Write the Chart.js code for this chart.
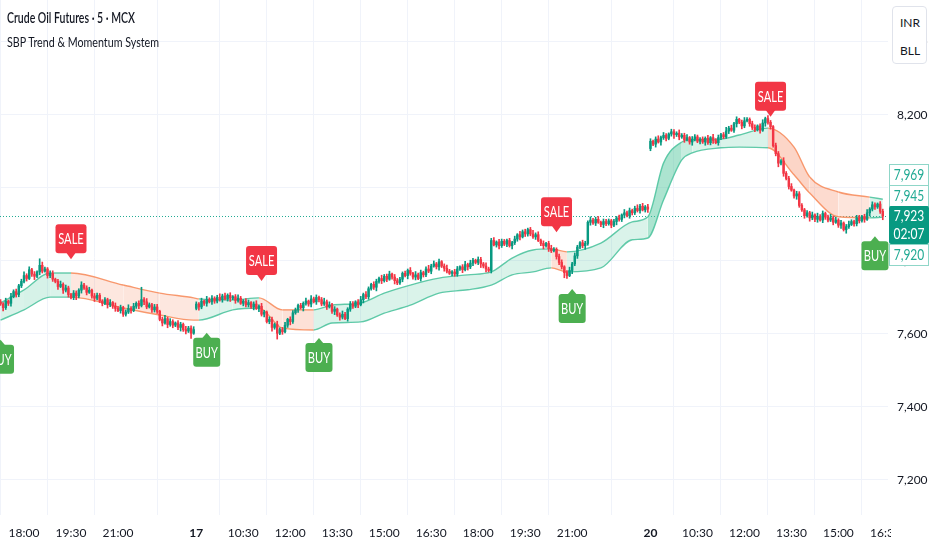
<!DOCTYPE html>
<html>
<head>
<meta charset="utf-8">
<script src="https://cdn.jsdelivr.net/npm/chart.js@4.4.1/dist/chart.umd.min.js"></script>
<style>
  html, body { margin: 0; padding: 0; background: #fff; }
  #wrap { position: relative; width: 932px; height: 550px; color: #131722; font-family: Lato, sans-serif; }
  .head { position: absolute; left: 7px; white-space: nowrap; transform-origin: 0 0; }
  #title { top: 8px; font-size: 15px; font-weight: 600; }
  #sub { top: 33px; font-size: 14px; }
  #ccy { position: absolute; left: 892px; top: 6px; width: 35px; height: 58px; background: #fff;
         border: 1px solid #e0e3eb; border-radius: 4px; font-size: 12px; box-sizing: border-box; }
  #ccy div { position: absolute; left: 7px; }
</style>
</head>
<body>
<div id="wrap">
  <canvas id="c" width="932" height="550"></canvas>
  <div id="title" class="head">Crude Oil Futures · 5 · MCX</div>
  <div id="sub" class="head">SBP Trend &amp; Momentum System</div>
  <div id="ccy"><div style="top:8px">INR</div><div style="top:36px">BLL</div></div>
</div>
<script>
// 5 min candles: 16th from 17:15, 17th full session, 20th up to 16:25
const closeDay16 = [
  7682,7672,7690,7684,7702,7716,7708,7732,7744,7760, 7752,7776,7764,7758,7770,7788,7772,7778,7760,7766,
  7750,7744,7730,7736,7720,7726,7708,7700,7712,7704, 7720,7734,7726,7714,7720,7704,7698,7706,7690,7684,
  7694,7680,7686,7676,7670,7664,7672,7654,7660,7670, 7664,7676,7684,7678,7694,7688,7674,7680,7666,7674,
  7662,7640,7630,7642,7626,7634,7624,7630,7618,7626, 7612,7608,7616,7602,7612
];
const closeDay17 = [
  7682,7674,7690,7684,7694,7688,7698,7690,7700,7694, 7704,7696,7706,7698,7702,7692,7698,7684,7690,7680,
  7686,7674,7682,7670,7676,7654,7660,7634,7640,7618, 7626,7602,7612,7606,7624,7640,7634,7658,7666,7678,
  7672,7684,7690,7682,7696,7688,7700,7694,7682,7688, 7674,7680,7662,7668,7652,7646,7654,7642,7668,7682,
  7676,7688,7680,7694,7708,7702,7724,7736,7728,7744, 7752,7746,7758,7750,7764,7756,7746,7740,7750,7766,
  7760,7774,7766,7756,7762,7752,7768,7762,7778,7772, 7786,7792,7784,7798,7786,7780,7772,7766,7770,7764,
  7778,7784,7776,7790,7784,7794,7802,7796,7804,7792, 7786,7778,7774,7856,7844,7852,7842,7854,7846,7856,
  7842,7850,7860,7872,7866,7880,7874,7886,7874,7866, 7872,7856,7848,7842,7848,7834,7828,7832,7812,7796,
  7784,7768,7760,7774,7792,7814,7838,7850,7842,7848, 7906,7912,7904,7914,7906,7900,7908,7902,7910,7898,
  7908,7918,7914,7926,7932,7924,7938,7932,7944,7938, 7950,7940,7948,7942
];
const closeDay20 = [
  8128,8120,8134,8126,8138,8144,8136,8148,8154,8146, 8150,8140,8144,8132,8138,8126,8134,8140,8128,8134,
  8126,8136,8124,8138,8130,8124,8138,8146,8140,8156, 8164,8158,8176,8188,8180,8170,8184,8188,8176,8166,
  8160,8170,8158,8178,8190,8180,8168,8116,8094,8068, 8074,8040,8026,8004,7994,7978,7984,7952,7940,7924,
  7932,7918,7926,7914,7922,7912,7930,7920,7912,7918, 7906,7912,7898,7904,7886,7894,7900,7908,7902,7918,
  7910,7922,7914,7932,7942,7954,7948,7956,7936,7923
];
const firstOpen = 7688;
const gapIdx = [75, 249];
const gapOpen = [7670, 8108];

const wickUp = [
  6,4,8,3,9,5,7,4,6,10, 5,8,4,7,3,18,9,5,4,7, 7,3,6,9,4,8,5,3,7,6, 4,9,5,6,8,3,7,6,5,4,
  6,4,8,3,9,5,7,4,6,10, 5,8,4,7,34,6,9,5,4,7, 7,3,6,9,4,8,5,3,7,6, 4,9,5,6,8,
  6,4,8,3,9,5,7,4,6,10, 5,8,4,7,3,6,9,5,4,7, 7,3,6,9,4,8,5,3,7,6, 4,9,5,6,8,3,7,6,5,4,
  6,4,8,3,9,5,7,4,6,10, 5,8,4,7,3,6,9,5,4,7, 7,3,6,9,4,8,5,3,7,6, 4,9,5,6,8,3,7,6,5,4,
  6,4,8,3,9,5,7,4,6,10, 5,8,4,7,3,6,9,5,4,7, 7,3,6,9,4,8,5,3,7,6, 4,9,5,6,8,3,7,6,5,4,
  6,4,8,3,9,5,7,4,6,10, 5,8,4,7,3,6,9,5,4,7, 7,3,6,9,4,8,5,3,7,6, 4,9,5,6,8,3,7,6,5,4,
  6,4,8,3,9,5,7,4,6,10, 5,8,4,7,
  7,3,6,9,4,8,5,3,7,6, 4,9,5,6,8,3,7,6,5,4, 6,4,8,3,9,5,7,4,6,10, 5,8,4,7,3,6,9,5,4,7,
  7,3,6,9,4,8,5,3,7,6, 4,9,5,6,8,3,7,6,5,4, 6,4,8,3,9,5,7,4,6,10, 5,8,4,7,3,6,9,5,4,7,
  7,3,6,9,4,8,5,3,7,6
];
const wickDn = [
  4,9,5,6,8,3,7,6,5,4, 7,3,6,9,4,8,5,3,7,6, 6,4,8,3,9,5,7,4,6,10, 5,8,4,7,3,6,9,5,4,7,
  4,9,5,6,8,3,7,6,5,4, 7,3,6,9,4,8,5,3,7,6, 6,4,8,3,9,5,7,4,6,10, 5,8,4,14,3,
  4,9,5,6,8,3,7,6,5,4, 7,3,6,9,4,8,5,3,7,6, 6,4,8,3,9,5,7,4,6,10, 5,16,4,7,3,6,9,5,4,7,
  4,9,5,6,8,3,7,6,5,4, 7,3,6,9,4,8,5,3,7,6, 6,4,8,3,9,5,7,4,6,10, 5,8,4,7,3,6,9,5,4,7,
  4,9,5,6,8,3,7,6,5,4, 7,3,6,9,4,8,5,3,7,6, 6,4,8,3,9,5,7,4,6,10, 5,8,4,7,3,6,9,5,4,7,
  4,9,5,6,8,3,7,6,5,4, 7,3,6,9,4,8,5,3,7,6, 6,14,8,3,9,5,7,4,6,10, 5,8,4,7,3,6,9,5,4,7,
  4,9,5,6,8,3,7,6,5,4, 7,3,6,9,
  6,4,8,3,9,5,7,4,6,10, 5,8,4,7,3,6,9,5,4,7, 4,9,5,6,8,3,7,6,5,4, 7,3,6,9,4,8,5,3,7,6,
  6,4,8,3,9,5,7,4,6,10, 5,8,4,7,3,6,9,5,4,7, 4,9,5,6,8,3,7,6,5,4, 7,3,6,9,4,10,5,3,7,6,
  6,4,8,3,9,5,7,4,6,10
];

// trend band (key points), trend of the segment that starts at each point
const bandIdx   = [0,9,19,27,47,61,74,76,89,99,108,120,127,138,147,157,168,179,188,196,204,211,217,230,242,248,254,261,265,276,283,294,304,310,321,333,338];
const bandUpper = [7685,7721,7767,7767,7734,7712,7699,7696,7693,7699,7666,7666,7679,7685,7712,7734,7753,7762,7770,7808,7830,7833,7825,7849,7907,7921,8068,8126,8132,8134,8145,8164,8112,8030,7989,7975,7969];
const bandLower = [7638,7666,7701,7701,7671,7652,7638,7638,7666,7671,7616,7611,7630,7633,7657,7679,7712,7721,7734,7762,7770,7781,7770,7781,7858,7863,7967,8077,8096,8110,8112,8110,8036,7986,7921,7918,7920];
const bandTrend = [1,1,1,-1,-1,-1,-1,1,1,-1,-1,1,1,1,1,1,1,1,1,1,1,-1,1,1,1,1,1,1,1,1,1,-1,-1,-1,-1,1,1];
const bandAlpha = [.2,.22,.2,.2,.22,.2,.2,.18,.2,.22,.25,.2,.2,.2,.2,.2,.2,.2,.2,.2,.2,.25,.2,.2,.2,.45,.45,.3,.2,.2,.2,.35,.35,.3,.22,.2,.2];

// signals: candle index, price at the pointer tip
const saleIdx = [27, 100, 213, 295];
const salePrice = [7805, 7745, 7879, 8195];
const buyIdx = [0, 79, 122, 219, 335];
const buyPrice = [7584, 7603, 7589, 7723, 7868];

const tickIdx = [9,27,45,75,93,111,129,147,165,183,201,219,249,267,285,303,321,339];
const tickLabels = ['18:00','19:30','21:00','17','10:30','12:00','13:30','15:00','16:30','18:00','19:30','21:00','20','10:30','12:00','13:30','15:00','16:30'];
const priceTicks = [7200,7400,7600,7800,8000,8200,8400];
const countdown = '02:07';

const FONT = 'Lato, sans-serif';
const UP = '#089981', DOWN = '#f23645';

// narrow the header lines to the width they take in the original
[['title', 128], ['sub', 152]].forEach(([id, w]) => {
  const el = document.getElementById(id);
  el.style.transform = 'scaleX(' + (w / el.getBoundingClientRect().width) + ')';
});

const closes = closeDay16.concat(closeDay17, closeDay20);
const opens = closes.map((c, i) => {
  if (i === 0) return firstOpen;
  const g = gapIdx.indexOf(i);
  return g >= 0 ? gapOpen[g] : closes[i - 1];
});
const colors = closes.map((c, i) => c >= opens[i] ? UP : DOWN);
const bodyData = closes.map((c, i) => ({ x: i, y: [opens[i], c] }));
const wickData = closes.map((c, i) => ({
  x: i, y: [Math.min(opens[i], c) - wickDn[i], Math.max(opens[i], c) + wickUp[i]]
}));
const upperPts = bandIdx.map((x, k) => ({ x, y: bandUpper[k] }));
const lowerPts = bandIdx.map((x, k) => ({ x, y: bandLower[k] }));

const lineCol = i => bandTrend[i] > 0 ? 'rgba(80,196,160,0.9)' : 'rgba(247,142,95,0.9)';
const fillCol = i => bandTrend[i] > 0
  ? 'rgba(70,195,150,' + bandAlpha[i] + ')'
  : 'rgba(247,135,95,' + bandAlpha[i] + ')';

function rrect(ctx, x, y, w, h, r) {
  ctx.beginPath();
  ctx.moveTo(x + r, y);
  ctx.arcTo(x + w, y, x + w, y + h, r);
  ctx.arcTo(x + w, y + h, x, y + h, r);
  ctx.arcTo(x, y + h, x, y, r);
  ctx.arcTo(x, y, x + w, y, r);
  ctx.closePath();
}

function narrowText(ctx, txt, x, y, sx) {
  ctx.save();
  ctx.translate(x, y);
  ctx.scale(sx, 1);
  ctx.fillText(txt, 0, 0);
  ctx.restore();
}

function drawSignal(ctx, x, tip, sale) {
  const w = sale ? 31 : 27, h = 29;
  const top = sale ? tip - 6 - h : tip + 5;
  ctx.fillStyle = sale ? '#f23645' : '#4caf50';
  rrect(ctx, x - w / 2, top, w, h, 3);
  ctx.fill();
  ctx.beginPath();
  const base = sale ? top + h - 1 : top + 1;
  ctx.moveTo(x - 5, base);
  ctx.lineTo(x + 5, base);
  ctx.lineTo(x, tip);
  ctx.closePath();
  ctx.fill();
  ctx.fillStyle = '#fff';
  ctx.font = '15px ' + FONT;
  ctx.textAlign = 'center';
  ctx.textBaseline = 'middle';
  narrowText(ctx, sale ? 'SALE' : 'BUY', x, top + h / 2 + 1, 0.74);
}

const overlay = {
  id: 'overlay',
  beforeDatasetsDraw(chart) {
    const { ctx, chartArea, scales } = chart;
    const y = Math.round(scales.y.getPixelForValue(closes[closes.length - 1])) + 0.5;
    ctx.save();
    ctx.strokeStyle = '#22ab94';
    ctx.lineWidth = 1;
    ctx.setLineDash([1, 2]);
    ctx.beginPath();
    ctx.moveTo(chartArea.left, y);
    ctx.lineTo(chartArea.right, y);
    ctx.stroke();
    ctx.restore();
  },
  afterDatasetsDraw(chart) {
    const { ctx, scales } = chart;
    ctx.save();
    saleIdx.forEach((i, k) => drawSignal(ctx, scales.x.getPixelForValue(i), scales.y.getPixelForValue(salePrice[k]), true));
    buyIdx.forEach((i, k) => drawSignal(ctx, scales.x.getPixelForValue(i), scales.y.getPixelForValue(buyPrice[k]), false));
    ctx.restore();
  },
  afterDraw(chart) {
    const { ctx, chartArea, scales, width, height } = chart;
    ctx.save();
    ctx.fillStyle = '#fff';
    ctx.fillRect(chartArea.right + 3, chartArea.bottom, width - chartArea.right, height - chartArea.bottom);

    const last = closes[closes.length - 1];
    const up = bandUpper[bandUpper.length - 1], lo = bandLower[bandLower.length - 1];
    const mid = Math.round((up + lo) / 2);
    const mainTop = Math.round(scales.y.getPixelForValue(last)) - 10;
    const x0 = chartArea.right + 1.5, w = 39;
    const fmt = v => v.toLocaleString('en-US');
    const tags = [
      { v: up, top: mainTop - 42, h: 21 },
      { v: mid, top: mainTop - 21, h: 21 },
      { v: lo, top: mainTop + 38, h: 21 }
    ];
    ctx.font = '15px ' + FONT;
    ctx.textAlign = 'center';
    ctx.textBaseline = 'middle';
    tags.forEach(t => {
      ctx.fillStyle = '#fff';
      ctx.fillRect(x0, t.top + 0.5, w, t.h);
      ctx.strokeStyle = '#8fd6c8';
      ctx.lineWidth = 1;
      ctx.strokeRect(x0, t.top + 0.5, w, t.h);
      ctx.fillStyle = '#22ab94';
      narrowText(ctx, fmt(t.v), x0 + w / 2, t.top + t.h / 2 + 1, 0.8);
    });
    ctx.fillStyle = UP;
    rrect(ctx, x0 - 0.5, mainTop, w + 1, 38, 2);
    ctx.fill();
    ctx.fillStyle = '#fff';
    narrowText(ctx, fmt(last), x0 + w / 2, mainTop + 10, 0.8);
    narrowText(ctx, countdown, x0 + w / 2, mainTop + 28, 0.8);
    ctx.restore();
  }
};

new Chart(document.getElementById('c'), {
  type: 'bar',
  data: {
    datasets: [
      { type: 'bar', data: bodyData, backgroundColor: colors, barThickness: 1.8, grouped: false, minBarLength: 1, order: 0 },
      { type: 'bar', data: wickData, backgroundColor: colors, barThickness: 1, grouped: false, order: 1 },
      { type: 'line', data: upperPts, fill: '+1', order: 3, borderWidth: 1.4, pointRadius: 0,
        cubicInterpolationMode: 'monotone',
        segment: { borderColor: c => lineCol(c.p0DataIndex), backgroundColor: c => fillCol(c.p0DataIndex) } },
      { type: 'line', data: lowerPts, fill: false, order: 2, borderWidth: 1.4, pointRadius: 0,
        cubicInterpolationMode: 'monotone',
        segment: { borderColor: c => lineCol(c.p0DataIndex) } }
    ]
  },
  options: {
    responsive: false,
    animation: false,
    layout: { padding: 0 },
    plugins: { legend: { display: false }, tooltip: { enabled: false } },
    scales: {
      x: {
        type: 'linear', min: -0.2, max: 340, offset: false,
        afterBuildTicks: s => { s.ticks = tickIdx.map(v => ({ value: v })); },
        afterFit: s => { s.height = 35; s.paddingLeft = 0; s.paddingRight = 0; },
        grid: { color: '#f0f3fa', drawTicks: false },
        border: { display: false },
        ticks: {
          autoSkip: false, maxRotation: 0, padding: 11, color: '#131722',
          font: c => ({ family: FONT, size: 12, weight: /:/.test(tickLabels[c.index] || ':') ? 'normal' : 'bold' }),
          callback: (v, i) => tickLabels[i]
        }
      },
      y: {
        position: 'right', min: 7104, max: 8515,
        afterBuildTicks: s => { s.ticks = priceTicks.map(v => ({ value: v })); },
        afterFit: s => { s.width = 44; s.paddingTop = 0; s.paddingBottom = 0; },
        grid: { color: '#f0f3fa', drawTicks: false },
        border: { display: false },
        ticks: { padding: 9, color: '#131722', font: { family: FONT, size: 12 }, callback: v => v.toLocaleString('en-US') }
      }
    }
  },
  plugins: [overlay]
});
</script>
</body>
</html>
